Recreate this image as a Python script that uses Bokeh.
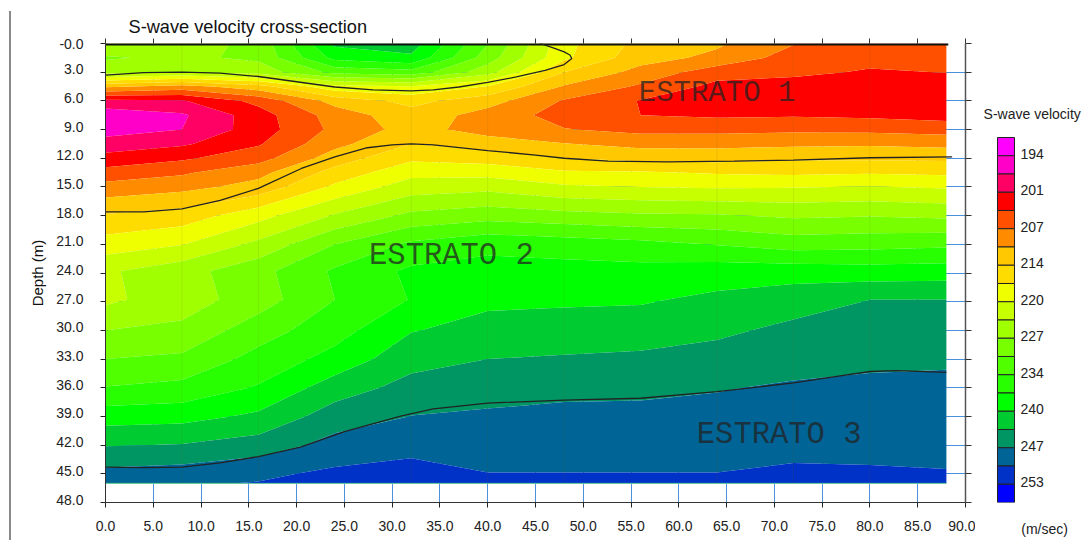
from bokeh.embed import file_html
from bokeh.resources import INLINE
from bokeh.plotting import figure
from bokeh.layouts import row
from bokeh.models import Range1d, LinearAxis, FixedTicker, Title
from bokeh.core.properties import value
import numpy as np

# Depth rows (m) and station positions (m) of the velocity section
depths = [0, 1.5, 3, 4.5, 6, 7.5, 9, 10.5, 12, 13.5, 15, 18, 21, 23.8, 26.8, 30, 33, 36, 39, 42, 45, 46]
stations = [0, 8, 16, 24, 32, 40, 48, 56, 64, 72, 80, 88]

# Velocity per station, expressed as position on the 20-band colour scale
st00 = [10.3, 11.1, 10.4, 6.2, 2.7, 1.4, 1.55, 2.45, 3.35, 4.4, 5.35, 7.1, 8.45, 9.85, 9.8, 11.0, 12.0, 13.05, 14.55, 15.95, 17.3, 17.9]
st08 = [10.5, 10.8, 10.0, 5.6, 2.9, 1.85, 2.0, 2.85, 3.85, 4.85, 5.7, 7.45, 8.95, 10.6, 10.5, 11.25, 12.2, 13.3, 14.65, 16.05, 17.45, 17.9]
st16 = [11.3, 11.2, 10.4, 6.6, 4.3, 3.55, 3.5, 3.9, 4.6, 5.7, 6.35, 8.65, 10.25, 11.67, 11.53, 12.55, 13.35, 14.1, 15.2, 16.45, 17.8, 18.05]
st24 = [15.2, 14.3, 12.3, 8.7, 6.35, 5.45, 5.25, 5.7, 6.5, 7.35, 8.2, 10.1, 12.0, 13.15, 13.0, 13.6, 14.35, 15.5, 16.5, 17.35, 18.2, 18.5]
st32 = [15.5, 14.8, 12.65, 8.95, 7.3, 6.6, 6.4, 7.0, 7.8, 8.7, 9.5, 11.25, 13.2, 14.2, 14.05, 14.95, 15.65, 16.35, 17.02, 17.7, 18.35, 18.55]
st40 = [12.05, 11.5, 10.4, 7.95, 6.4, 5.6, 5.55, 6.55, 7.55, 8.65, 9.7, 11.6, 13.75, 14.35, 14.8, 15.35, 16.0, 16.6, 17.15, 17.55, 18.02, 18.2]
st48 = [8.3, 8.2, 7.0, 5.9, 4.9, 4.6, 5.05, 6.05, 7.0, 8.15, 9.15, 11.35, 13.55, 14.35, 14.85, 15.45, 16.1, 16.75, 17.25, 17.6, 18.02, 18.2]
st56 = [6.7, 6.4, 5.65, 4.85, 3.95, 4.0, 4.7, 5.7, 6.7, 8.1, 9.0, 11.15, 13.3, 14.35, 14.9, 15.5, 16.2, 16.8, 17.25, 17.6, 18.02, 18.2]
st64 = [6.15, 5.75, 4.45, 3.7, 3.3, 3.85, 4.7, 5.7, 6.65, 7.9, 8.9, 11.1, 12.95, 14.55, 15.2, 15.8, 16.4, 16.95, 17.25, 17.6, 18.02, 18.2]
st72 = [5.05, 4.55, 4.2, 3.6, 3.25, 3.9, 4.8, 5.8, 6.85, 7.8, 8.95, 10.85, 12.55, 14.55, 15.55, 16.25, 16.7, 17.1, 17.4, 17.75, 18.15, 18.3]
st80 = [4.4, 4.3, 3.9, 3.4, 3.2, 3.8, 4.75, 5.85, 6.85, 7.9, 9.05, 10.95, 12.65, 14.43, 16.0, 16.43, 16.84, 17.17, 17.47, 17.77, 18.1, 18.3]
st88 = [4.5, 4.3, 4.02, 3.7, 3.3, 3.6, 4.6, 5.7, 6.8, 7.8, 8.9, 10.8, 12.8, 14.5, 16.0, 16.45, 16.88, 17.2, 17.45, 17.75, 18.05, 18.2]

band_colors = ["#ff00ff", "#ff00c8", "#ff0064", "#ff0000", "#ff5000", "#ff8c00", "#ffc800", "#ffdc00",
               "#f0ff00", "#c8ff00", "#a0ff00", "#78ff00", "#50ff00", "#28ff00", "#00ff00", "#00cc32",
               "#009664", "#006496", "#0032c8", "#0000ff"]
legend_ticks = [1, 3, 5, 7, 9, 11, 13, 15, 17, 19]
legend_labels = ["194", "201", "207", "214", "220", "227", "234", "240", "247", "253"]

# Stratum boundaries
line1_x = [0, 4, 8, 12, 16, 20, 24, 28, 32, 34.3, 37, 40, 43, 46, 48, 48.8, 48.6, 48, 47, 45.5]
line1_d = [3.3, 3.05, 3.0, 3.1, 3.45, 4.0, 4.55, 4.85, 4.95, 4.85, 4.55, 4.07, 3.5, 2.8, 2.2, 1.57, 1.2, 0.87, 0.5, 0.0]
line2_x = [0, 4, 8, 12, 16, 20.5, 24, 27.4, 30, 32, 34.3, 40, 45, 48, 52.6, 58.8, 65.8, 72, 80, 88.6]
line2_d = [17.6, 17.6, 17.3, 16.4, 15.15, 13.07, 11.85, 10.9, 10.6, 10.5, 10.6, 11.2, 11.67, 12.0, 12.3, 12.37, 12.3, 12.2, 11.95, 11.85]
line3_x = [0, 4, 8, 12, 16, 20.4, 25, 31, 34.3, 40, 48, 56, 64, 72, 76, 80, 82.8, 88]
line3_d = [44.3, 44.35, 44.3, 43.85, 43.2, 42.2, 40.6, 38.95, 38.2, 37.6, 37.3, 37.1, 36.4, 35.5, 34.9, 34.3, 34.2, 34.4]

x_ticks = list(range(0, 95, 5))
y_ticks = list(range(0, 51, 3))
seams = [8, 16, 32, 40, 48, 64, 72, 80]
strata_labels = ["ESTRATO 1", "ESTRATO 2", "ESTRATO 3"]
strata_x = [64, 36.2, 70.5]
strata_y = [5.2, 22.2, 40.9]

FONT = "Liberation Sans"
z = np.array([st00, st08, st16, st24, st32, st40, st48, st56, st64, st72, st80, st88]).T

p = figure(width=975, height=540, x_range=Range1d(0, 90), y_range=Range1d(48, 0),
           output_backend="svg", toolbar_location=None,
           min_border_left=105, min_border_right=10, min_border_top=43, min_border_bottom=38,
           background_fill_color="white", border_fill_color=None)
p.styles = {"background": "linear-gradient(#8a8a8a,#8a8a8a) no-repeat 9px 11px / 2px 529px"}
p.outline_line_color = None
p.title = Title(text="S-wave velocity cross-section", align="left", offset=23, text_font=FONT,
                text_font_size="18.2px", text_font_style="normal", text_color="#111111", standoff=4)

cr = p.contour(stations, depths, z, levels=list(range(21)), fill_color=band_colors, line_color=None)

# Depth labels sit about 3px above their tick marks: labels on major positions, marks as minor ticks
label_pos = {(round(t - 0.31, 2) if t else 0): (f"{t:.1f}" if t else "-0.0") for t in y_ticks}
p.xaxis.ticker = FixedTicker(ticks=x_ticks)
p.yaxis.ticker = FixedTicker(ticks=list(label_pos), minor_ticks=y_ticks)
p.xaxis.major_label_overrides = {t: f"{t:.1f}" for t in x_ticks}
p.yaxis.major_label_overrides = label_pos
for ax in (p.xaxis[0], p.yaxis[0]):
    ax.major_label_text_font = FONT
    ax.major_label_text_font_size = "14px"
    ax.major_label_text_color = "#222222"
    ax.major_tick_out = 5
    ax.major_tick_in = 0
    ax.minor_tick_out = 0
    ax.minor_tick_in = 0
    ax.major_tick_line_color = "#222222"
    ax.axis_line_color = "#333333"
p.yaxis.major_tick_line_color = None
p.yaxis.minor_tick_out = 5
p.yaxis.minor_tick_line_color = "#222222"
p.xaxis.major_label_standoff = 13
p.yaxis.major_label_standoff = 17
p.yaxis.axis_label = "Depth (m)"
p.yaxis.axis_label_text_font = FONT
p.yaxis.axis_label_text_font_style = "normal"
p.yaxis.axis_label_text_font_size = "15px"
p.yaxis.axis_label_text_color = "#111111"
p.yaxis.axis_label_standoff = 7

top = LinearAxis(ticker=FixedTicker(ticks=x_ticks), major_label_overrides={t: "" for t in x_ticks},
                 major_label_text_font_size="1px", major_label_standoff=0,
                 major_tick_out=5, major_tick_in=0, minor_tick_out=0, minor_tick_in=0,
                 axis_line_color=None, major_tick_line_color="#333333")
right = LinearAxis(ticker=FixedTicker(ticks=y_ticks), major_label_overrides={t: "" for t in y_ticks},
                   major_label_text_font_size="1px", major_label_standoff=0,
                   major_tick_out=6, major_tick_in=0, minor_tick_out=0, minor_tick_in=0,
                   axis_line_color="#555555", axis_line_width=1.5, major_tick_line_color="#333333")
p.add_layout(top, "above")
p.add_layout(right, "right")

p.grid.grid_line_color = "#4a90dc"
p.grid.grid_line_width = 1
p.xgrid.ticker = FixedTicker(ticks=x_ticks)
p.ygrid.ticker = FixedTicker(ticks=y_ticks)
p.grid.level = "underlay"

p.segment(seams, [0] * len(seams), seams, [46] * len(seams), line_color="#706000", line_alpha=0.12, line_width=1)
p.line(stations, [46] * len(stations), line_color="#66cc99", line_width=1)
p.line([0, 88.2], [0, 0], line_color="#111111", line_width=4)

for xs, ds in ((line1_x, line1_d), (line2_x, line2_d), (line3_x, line3_d)):
    p.line(xs, ds, line_color="#222222", line_width=1.3)

p.text(strata_x, strata_y, text=strata_labels, text_font=value("Liberation Mono"),
       text_font_size=["29px", "30.5px", "30.5px"],
       text_color="#222222", text_alpha=0.75, text_align="center", text_baseline="middle")

# Colour scale: the frame spans the figure's width, bands occupy x 0..1 and y 0..20
lg = figure(width=107, height=540, x_range=Range1d(-1.294, 5.0), y_range=Range1d(20, -5.15),
            output_backend="svg", toolbar_location=None,
            min_border_left=0, min_border_right=0, min_border_top=43, min_border_bottom=38,
            y_axis_location=None, border_fill_color="white")
lg.outline_line_color = None
lg.grid.visible = False
lg.quad(left=[0] * 20, right=[1] * 20, top=list(range(20)), bottom=list(range(1, 21)),
        fill_color=band_colors, line_color="#222222", line_width=1)
lg.text([1.35] * len(legend_ticks), legend_ticks, text=legend_labels, text_font=value(FONT), y_offset=-2,
        text_font_size="14px", text_color="#222222", text_baseline="middle")
lg.text([-0.82], [-1.3], text=["S-wave velocity"], text_font=value(FONT), text_font_size="14px",
        text_color="#222222", text_baseline="middle")
xa = lg.xaxis[0]
xa.ticker = FixedTicker(ticks=[2.77])
xa.major_label_overrides = {2.77: "(m/sec)"}
xa.major_label_text_font = FONT
xa.major_label_text_font_size = "14px"
xa.major_label_text_color = "#222222"
xa.axis_line_color = None
xa.major_tick_line_color = None
xa.minor_tick_line_color = None
xa.major_label_standoff = 12

page = row(p, lg)
page.spacing = 0
open("out.html", "w").write(file_html(page, INLINE))
